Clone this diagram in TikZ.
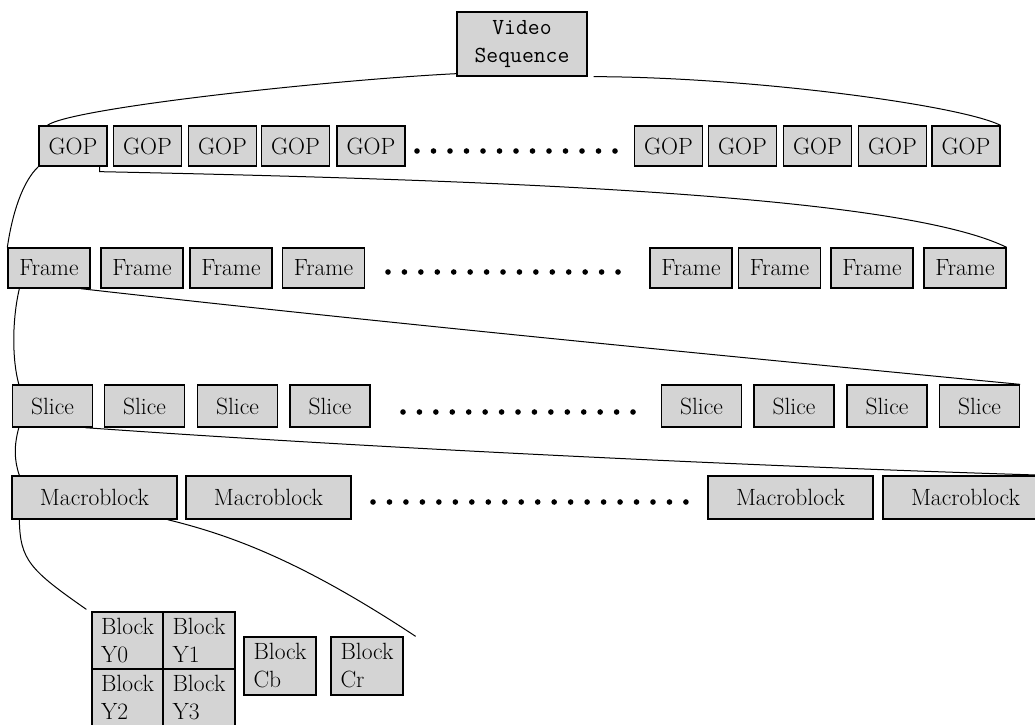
\documentclass[tikz,border=0pt]{standalone}
\usepackage{fontspec}
\definecolor{boxgray}{RGB}{212,212,212}
\tikzset{
  box/.style={draw=black, line width=1.3pt, fill=boxgray, inner sep=0pt,
              font=\fontsize{23.5}{28}\selectfont},
  gopbox/.style={box, minimum width=68pt, minimum height=40pt},
  framebox/.style={box, minimum width=82pt, minimum height=40pt},
  slicebox/.style={box, minimum width=80pt, minimum height=42pt},
  mbbox/.style={box, minimum width=165pt, minimum height=43pt},
  blkbox/.style={box, align=left, minimum height=57pt},
  cbox/.style={box, align=left, minimum width=72pt, minimum height=58pt},
  conn/.style={draw=black, line width=1pt},
  dot/.style={fill=black},
}
\begin{document}
\begin{tikzpicture}[x=1pt, y=-1pt]
\useasboundingbox (0,0) rectangle (1035,724);
\fill[white] (0,0) rectangle (1035,724);

% Video sequence
\node[box, minimum width=130pt, minimum height=64pt, align=center,
      font=\ttfamily\fontsize{23}{28}\selectfont] (VS) at (522,44) {Video\\Sequence};

% GOP row
\node[gopbox] (G1) at (73,146) {GOP};
\node[gopbox] (G2) at (147.5,146) {GOP};
\node[gopbox] (G3) at (222.5,146) {GOP};
\node[gopbox] (G4) at (295.5,146) {GOP};
\node[gopbox] (G5) at (371,146) {GOP};
\node[gopbox] (G6) at (668.5,146) {GOP};
\node[gopbox] (G7) at (742.5,146) {GOP};
\node[gopbox] (G8) at (817.5,146) {GOP};
\node[gopbox] (G9) at (892.5,146) {GOP};
\node[gopbox] (G10) at (966,146) {GOP};

% Frame row
\node[framebox] (F1) at (49,268) {Frame};
\node[framebox] (F2) at (142,268) {Frame};
\node[framebox] (F3) at (231,268) {Frame};
\node[framebox] (F4) at (323.5,268) {Frame};
\node[framebox] (F5) at (691,268) {Frame};
\node[framebox] (F6) at (779.5,268) {Frame};
\node[framebox] (F7) at (872,268) {Frame};
\node[framebox] (F8) at (965,268) {Frame};

% Slice row
\node[slicebox] (S1) at (52.5,406) {Slice};
\node[slicebox] (S2) at (144.5,406) {Slice};
\node[slicebox] (S3) at (237.5,406) {Slice};
\node[slicebox] (S4) at (330,406) {Slice};
\node[slicebox] (S5) at (701.5,406) {Slice};
\node[slicebox] (S6) at (794,406) {Slice};
\node[slicebox] (S7) at (887,406) {Slice};
\node[slicebox] (S8) at (979.5,406) {Slice};

% Macroblock row
\node[mbbox] (M1) at (94.5,497.5) {Macroblock};
\node[mbbox] (M2) at (268.5,497.5) {Macroblock};
\node[mbbox] (M3) at (790.5,497.5) {Macroblock};
\node[mbbox] (M4) at (965.5,497.5) {Macroblock};

% Blocks
\node[blkbox, minimum width=71pt] (Y0) at (127.5,640.5) {Block\\Y0};
\node[blkbox, minimum width=72pt] (Y1) at (199,640.5) {Block\\Y1};
\node[blkbox, minimum width=71pt] (Y2) at (127.5,697.5) {Block\\Y2};
\node[blkbox, minimum width=72pt] (Y3) at (199,697.5) {Block\\Y3};
\node[cbox] (Cb) at (280,666) {Block\\Cb};
\node[cbox] (Cr) at (367,666) {Block\\Cr};

% dots
\foreach \i in {0,...,12} \fill[dot] (417+\i*16.5,151) circle[radius=2.8pt];
\foreach \i in {0,...,14} \fill[dot] (388+\i*16.43,272) circle[radius=2.8pt];
\foreach \i in {0,...,14} \fill[dot] (403+\i*16.43,412) circle[radius=2.8pt];
\foreach \i in {0,...,19} \fill[dot] (373+\i*16.47,502) circle[radius=2.8pt];

% connectors
\draw[conn] ([yshift=3pt]VS.south west) .. controls (330,80) and (70,108) .. ([xshift=9pt]G1.north west);
\draw[conn] ([xshift=6pt]VS.south east) .. controls (750,77) and (960,105) .. (G10.north east);

\draw[conn] (G1.south west) .. controls (22,182) and (12,215) .. (F1.north west);
\draw[conn] ([xshift=-8pt]G1.south east) -- ++(0,5) .. controls (500,180) and (900,195) .. (F8.north east);

\draw[conn] ([xshift=12pt]F1.south west) .. controls (12,320) and (12,360) .. ([xshift=7pt]S1.north west);
\draw[conn] ([xshift=-10pt]F1.south east) .. controls (400,325) and (850,368) .. (S8.north east);

\draw[conn] ([xshift=7pt]S1.south west) .. controls (14,445) and (14,460) .. ([xshift=8pt]M1.north west);
\draw[conn] ([xshift=-8pt]S1.south east) .. controls (400,450) and (800,468) .. (M4.north east);

\draw[conn] ([xshift=8pt]M1.south west) .. controls (20,560) and (30,570) .. ([shift={(-5pt,2pt)}]Y0.north west);
\draw[conn] ([xshift=-10pt]M1.south east) .. controls (230,535) and (300,560) .. ([xshift=12pt]Cr.north east);
\end{tikzpicture}
\end{document}
